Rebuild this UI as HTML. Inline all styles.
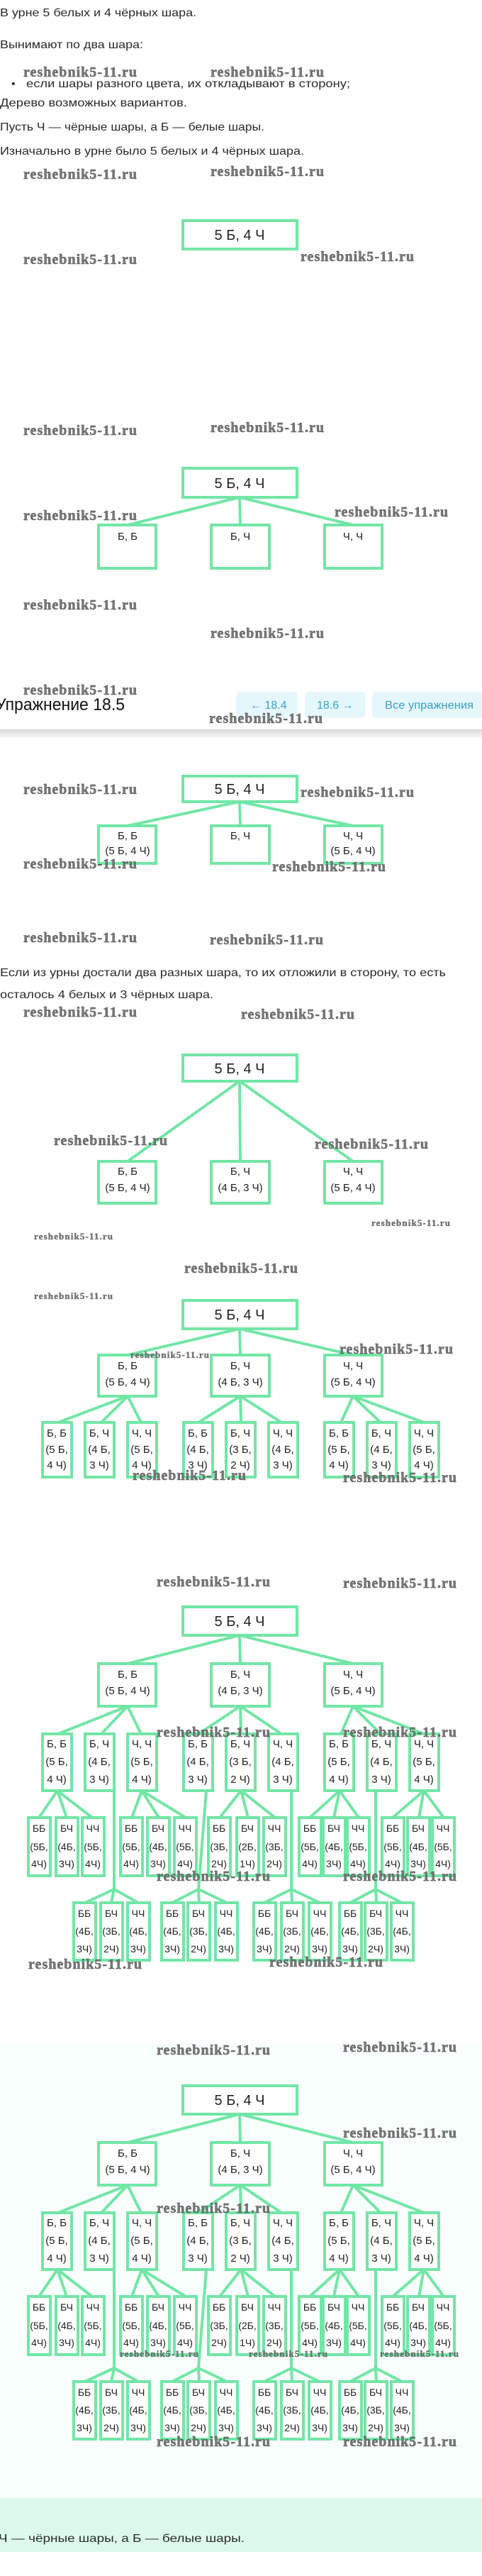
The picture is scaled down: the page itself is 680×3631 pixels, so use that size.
<!DOCTYPE html>
<html><head><meta charset="utf-8"><style>
html,body{margin:0;padding:0;background:#fff;width:680px;height:3631px;overflow:hidden}
svg{display:block}
.t{font-family:"Liberation Sans","DejaVu Sans",sans-serif;font-size:16px;fill:#2a2a2a}
.r{font-family:"Liberation Sans",sans-serif;font-size:20px;fill:#222;text-anchor:middle}
.c{font-family:"Liberation Sans",sans-serif;font-size:15px;fill:#222;text-anchor:middle}
.g{font-family:"Liberation Sans",sans-serif;font-size:14px;fill:#222;text-anchor:middle}
.w{font-family:"Liberation Serif",serif;font-weight:bold;font-size:20px;fill:#777;stroke:#444;stroke-width:.4}
.ws{font-family:"Liberation Serif",serif;font-weight:bold;font-size:13px;fill:#777;stroke:#444;stroke-width:.3}
rect.b{fill:#fff;stroke:#72e6a6;stroke-width:4}
path.l{stroke:#72e6a6;stroke-width:4;fill:none}
.bt{font-family:"Liberation Sans",sans-serif;font-size:16px;fill:#3a9fc6}
</style></head><body>
<svg width="680" height="3631" viewBox="0 0 680 3631" xmlns="http://www.w3.org/2000/svg">
<defs><linearGradient id="sh" x1="0" y1="0" x2="0" y2="1"><stop offset="0" stop-color="#d8d8d8"/><stop offset="1" stop-color="#fff"/></linearGradient></defs>
<rect x="0" y="2880" width="680" height="641" fill="#f8fefb"/>
<rect x="0" y="3521" width="680" height="76" fill="#dcf9ec"/>

<!-- intro text -->
<text class="t" x="0" y="23" textLength="277" lengthAdjust="spacingAndGlyphs">В урне 5 белых и 4 чёрных шара.</text>
<text class="t" x="0" y="68" textLength="202" lengthAdjust="spacingAndGlyphs">Вынимают по два шара:</text>
<text class="t" x="16" y="123" fill="#999">•</text>
<text class="t" x="37" y="123" textLength="457" lengthAdjust="spacingAndGlyphs">если шары разного цвета, их откладывают в сторону;</text>
<text class="t" x="0" y="150" textLength="264" lengthAdjust="spacingAndGlyphs">Дерево возможных вариантов.</text>
<text class="t" x="0" y="184" textLength="373" lengthAdjust="spacingAndGlyphs">Пусть Ч — чёрные шары, а Б — белые шары.</text>
<text class="t" x="0" y="218" textLength="429" lengthAdjust="spacingAndGlyphs">Изначально в урне было 5 белых и 4 чёрных шара.</text>

<!-- Diagram A -->
<rect class="b" x="258" y="311" width="161" height="40"/>
<text class="r" x="338" y="338">5 Б, 4 Ч</text>

<!-- Diagram B -->
<path class="l" d="M338 701 L180 740 M338 701 L339 740 M338 701 L498 740"/>
<rect class="b" x="258" y="660" width="161" height="41"/>
<text class="r" x="338" y="688">5 Б, 4 Ч</text>
<rect class="b" x="139" y="740" width="81" height="61"/>
<rect class="b" x="298" y="740" width="82" height="61"/>
<rect class="b" x="458" y="740" width="81" height="61"/>
<text class="c" x="180" y="761">Б, Б</text>
<text class="c" x="339" y="761">Б, Ч</text>
<text class="c" x="498" y="761">Ч, Ч</text>

<!-- header bar -->
<rect x="0" y="955" width="680" height="73" fill="#fff"/>
<rect x="0" y="1028" width="680" height="14" fill="url(#sh)"/>
<text x="-6" y="1001" font-family="Liberation Sans,sans-serif" font-size="24" fill="#111" textLength="182" lengthAdjust="spacingAndGlyphs">Упражнение 18.5</text>
<rect x="333" y="975" width="87" height="37" rx="5" fill="#e6f7fc"/>
<rect x="430" y="975" width="85" height="37" rx="5" fill="#e6f7fc"/>
<rect x="525" y="975" width="160" height="37" rx="5" fill="#e6f7fc"/>
<text class="bt" x="353" y="999">← 18.4</text>
<text class="bt" x="447" y="999">18.6 →</text>
<text class="bt" x="543" y="999" textLength="125" lengthAdjust="spacingAndGlyphs">Все упражнения</text>

<!-- Diagram C -->
<path class="l" d="M338 1130 L180 1164 M338 1130 L339 1164 M338 1130 L498 1164"/>
<rect class="b" x="258" y="1094" width="161" height="36"/>
<text class="r" x="338" y="1119">5 Б, 4 Ч</text>
<rect class="b" x="139" y="1164" width="81" height="53"/>
<rect class="b" x="298" y="1164" width="82" height="53"/>
<rect class="b" x="458" y="1164" width="81" height="53"/>
<text class="c" x="180" y="1183">Б, Б</text><text class="c" x="180" y="1204">(5 Б, 4 Ч)</text>
<text class="c" x="339" y="1183">Б, Ч</text>
<text class="c" x="498" y="1183">Ч, Ч</text><text class="c" x="498" y="1204">(5 Б, 4 Ч)</text>

<text class="t" x="0" y="1376" textLength="629" lengthAdjust="spacingAndGlyphs">Если из урны достали два разных шара, то их отложили в сторону, то есть</text>
<text class="t" x="0" y="1407" textLength="301" lengthAdjust="spacingAndGlyphs">осталось 4 белых и 3 чёрных шара.</text>

<!-- Diagram D -->
<path class="l" d="M338 1524 L180 1637 M338 1524 L339 1637 M338 1524 L498 1637"/>
<rect class="b" x="258" y="1487" width="161" height="37"/>
<text class="r" x="338" y="1513">5 Б, 4 Ч</text>
<rect class="b" x="139" y="1637" width="81" height="59"/>
<rect class="b" x="298" y="1637" width="82" height="59"/>
<rect class="b" x="458" y="1637" width="81" height="59"/>
<text class="c" x="180" y="1656">Б, Б</text><text class="c" x="180" y="1679">(5 Б, 4 Ч)</text>
<text class="c" x="339" y="1656">Б, Ч</text><text class="c" x="339" y="1679">(4 Б, 3 Ч)</text>
<text class="c" x="498" y="1656">Ч, Ч</text><text class="c" x="498" y="1679">(5 Б, 4 Ч)</text>

<!-- Diagram E -->
<g transform="translate(0,1833)">
<path class="l" d="M338 40 L180 77 M338 40 L339 77 M338 40 L498 77
M180 135 L82 172 M180 135 L143 172 M180 135 L199 172
M339 135 L280 172 M339 135 L340 172 M339 135 L397 172
M498 135 L481 172 M498 135 L537 172 M498 135 L598 172"/>
<rect class="b" x="258" y="0" width="161" height="40"/>
<text class="r" x="338" y="27">5 Б, 4 Ч</text>
<rect class="b" x="139" y="77" width="81" height="58"/><rect class="b" x="298" y="77" width="82" height="58"/><rect class="b" x="458" y="77" width="81" height="58"/>
<text class="c" x="180" y="97">Б, Б</text><text class="c" x="180" y="120">(5 Б, 4 Ч)</text>
<text class="c" x="339" y="97">Б, Ч</text><text class="c" x="339" y="120">(4 Б, 3 Ч)</text>
<text class="c" x="498" y="97">Ч, Ч</text><text class="c" x="498" y="120">(5 Б, 4 Ч)</text>
<rect class="b" x="60" y="172" width="41" height="77"/><rect class="b" x="120" y="172" width="41" height="77"/><rect class="b" x="180" y="172" width="41" height="77"/>
<rect class="b" x="259" y="172" width="41" height="77"/><rect class="b" x="319" y="172" width="41" height="77"/><rect class="b" x="379" y="172" width="41" height="77"/>
<rect class="b" x="458" y="172" width="41" height="77"/><rect class="b" x="518" y="172" width="41" height="77"/><rect class="b" x="578" y="172" width="41" height="77"/>
<text class="c" x="80" y="192">Б, Б</text><text class="c" x="80" y="215">(5 Б,</text><text class="c" x="80" y="237">4 Ч)</text>
<text class="c" x="140" y="192">Б, Ч</text><text class="c" x="140" y="215">(4 Б,</text><text class="c" x="140" y="237">3 Ч)</text>
<text class="c" x="200" y="192">Ч, Ч</text><text class="c" x="200" y="215">(5 Б,</text><text class="c" x="200" y="237">4 Ч)</text>
<text class="c" x="279" y="192">Б, Б</text><text class="c" x="279" y="215">(4 Б,</text><text class="c" x="279" y="237">3 Ч)</text>
<text class="c" x="339" y="192">Б, Ч</text><text class="c" x="339" y="215">(3 Б,</text><text class="c" x="339" y="237">2 Ч)</text>
<text class="c" x="399" y="192">Ч, Ч</text><text class="c" x="399" y="215">(4 Б,</text><text class="c" x="399" y="237">3 Ч)</text>
<text class="c" x="478" y="192">Б, Б</text><text class="c" x="478" y="215">(5 Б,</text><text class="c" x="478" y="237">4 Ч)</text>
<text class="c" x="538" y="192">Б, Ч</text><text class="c" x="538" y="215">(4 Б,</text><text class="c" x="538" y="237">3 Ч)</text>
<text class="c" x="598" y="192">Ч, Ч</text><text class="c" x="598" y="215">(5 Б,</text><text class="c" x="598" y="237">4 Ч)</text>
</g>

<!-- Diagram F -->
<g transform="translate(0,2265)">
<path class="l" d="M338 40 L180 80 M338 40 L339 80 M338 40 L498 80
M180 140 L82 179 M180 140 L143 179 M180 140 L199 179
M339 140 L280 179 M339 140 L340 179 M339 140 L397 179
M498 140 L481 179 M498 140 L537 179 M498 140 L598 179
M81 259 L55 297 M81 259 L94 297 M81 259 L130 297
M200 259 L186 297 M200 259 L224 297 M200 259 L262 297
M340 259 L310 297 M340 259 L350 297 M340 259 L388 297
M479 259 L437 297 M479 259 L471 297 M479 259 L506 297
M598 259 L554 297 M598 259 L591 297 M598 259 L626 297
M161 259 L161 398 M291 259 L280 398 M411 259 L411 398 M530 259 L530 398
M161 398 L120 417 M161 398 L157 417 M161 398 L195 417
M280 398 L243 417 M280 398 L281 417 M280 398 L320 417
M411 398 L373 417 M411 398 L412 417 M411 398 L451 417
M530 398 L494 417 M530 398 L531 417 M530 398 L567 417"/>
<rect class="b" x="258" y="0" width="161" height="40"/>
<text class="r" x="338" y="27">5 Б, 4 Ч</text>
<rect class="b" x="139" y="80" width="81" height="60"/><rect class="b" x="298" y="80" width="82" height="60"/><rect class="b" x="458" y="80" width="81" height="60"/>
<text class="c" x="180" y="100">Б, Б</text><text class="c" x="180" y="123">(5 Б, 4 Ч)</text>
<text class="c" x="339" y="100">Б, Ч</text><text class="c" x="339" y="123">(4 Б, 3 Ч)</text>
<text class="c" x="498" y="100">Ч, Ч</text><text class="c" x="498" y="123">(5 Б, 4 Ч)</text>
<rect class="b" x="60" y="179" width="41" height="80"/><rect class="b" x="120" y="179" width="41" height="80"/><rect class="b" x="180" y="179" width="41" height="80"/>
<rect class="b" x="259" y="179" width="41" height="80"/><rect class="b" x="319" y="179" width="41" height="80"/><rect class="b" x="379" y="179" width="41" height="80"/>
<rect class="b" x="458" y="179" width="41" height="80"/><rect class="b" x="518" y="179" width="41" height="80"/><rect class="b" x="578" y="179" width="41" height="80"/>
<text class="c" x="80" y="198">Б, Б</text><text class="c" x="80" y="223">(5 Б,</text><text class="c" x="80" y="248">4 Ч)</text>
<text class="c" x="140" y="198">Б, Ч</text><text class="c" x="140" y="223">(4 Б,</text><text class="c" x="140" y="248">3 Ч)</text>
<text class="c" x="200" y="198">Ч, Ч</text><text class="c" x="200" y="223">(5 Б,</text><text class="c" x="200" y="248">4 Ч)</text>
<text class="c" x="279" y="198">Б, Б</text><text class="c" x="279" y="223">(4 Б,</text><text class="c" x="279" y="248">3 Ч)</text>
<text class="c" x="339" y="198">Б, Ч</text><text class="c" x="339" y="223">(3 Б,</text><text class="c" x="339" y="248">2 Ч)</text>
<text class="c" x="399" y="198">Ч, Ч</text><text class="c" x="399" y="223">(4 Б,</text><text class="c" x="399" y="248">3 Ч)</text>
<text class="c" x="478" y="198">Б, Б</text><text class="c" x="478" y="223">(5 Б,</text><text class="c" x="478" y="248">4 Ч)</text>
<text class="c" x="538" y="198">Б, Ч</text><text class="c" x="538" y="223">(4 Б,</text><text class="c" x="538" y="248">3 Ч)</text>
<text class="c" x="598" y="198">Ч, Ч</text><text class="c" x="598" y="223">(5 Б,</text><text class="c" x="598" y="248">4 Ч)</text>
<!-- row1 -->
<rect class="b" x="40" y="297" width="31" height="82"/><rect class="b" x="79" y="297" width="31" height="82"/><rect class="b" x="116" y="297" width="31" height="82"/>
<rect class="b" x="170" y="297" width="31" height="82"/><rect class="b" x="208" y="297" width="31" height="82"/><rect class="b" x="246" y="297" width="31" height="82"/>
<rect class="b" x="294" y="297" width="31" height="82"/><rect class="b" x="334" y="297" width="31" height="82"/><rect class="b" x="372" y="297" width="31" height="82"/>
<rect class="b" x="422" y="297" width="31" height="82"/><rect class="b" x="456" y="297" width="31" height="82"/><rect class="b" x="490" y="297" width="31" height="82"/>
<rect class="b" x="539" y="297" width="31" height="82"/><rect class="b" x="575" y="297" width="31" height="82"/><rect class="b" x="610" y="297" width="31" height="82"/>
<text class="g" x="55" y="317">ББ</text><text class="g" x="55" y="343">(5Б,</text><text class="g" x="55" y="367">4Ч)</text>
<text class="g" x="94" y="317">БЧ</text><text class="g" x="94" y="343">(4Б,</text><text class="g" x="94" y="367">3Ч)</text>
<text class="g" x="131" y="317">ЧЧ</text><text class="g" x="131" y="343">(5Б,</text><text class="g" x="131" y="367">4Ч)</text>
<text class="g" x="185" y="317">ББ</text><text class="g" x="185" y="343">(5Б,</text><text class="g" x="185" y="367">4Ч)</text>
<text class="g" x="223" y="317">БЧ</text><text class="g" x="223" y="343">(4Б,</text><text class="g" x="223" y="367">3Ч)</text>
<text class="g" x="261" y="317">ЧЧ</text><text class="g" x="261" y="343">(5Б,</text><text class="g" x="261" y="367">4Ч)</text>
<text class="g" x="309" y="317">ББ</text><text class="g" x="309" y="343">(3Б,</text><text class="g" x="309" y="367">2Ч)</text>
<text class="g" x="349" y="317">БЧ</text><text class="g" x="349" y="343">(2Б,</text><text class="g" x="349" y="367">1Ч)</text>
<text class="g" x="387" y="317">ЧЧ</text><text class="g" x="387" y="343">(3Б,</text><text class="g" x="387" y="367">2Ч)</text>
<text class="g" x="437" y="317">ББ</text><text class="g" x="437" y="343">(5Б,</text><text class="g" x="437" y="367">4Ч)</text>
<text class="g" x="471" y="317">БЧ</text><text class="g" x="471" y="343">(4Б,</text><text class="g" x="471" y="367">3Ч)</text>
<text class="g" x="505" y="317">ЧЧ</text><text class="g" x="505" y="343">(5Б,</text><text class="g" x="505" y="367">4Ч)</text>
<text class="g" x="554" y="317">ББ</text><text class="g" x="554" y="343">(5Б,</text><text class="g" x="554" y="367">4Ч)</text>
<text class="g" x="590" y="317">БЧ</text><text class="g" x="590" y="343">(4Б,</text><text class="g" x="590" y="367">3Ч)</text>
<text class="g" x="625" y="317">ЧЧ</text><text class="g" x="625" y="343">(5Б,</text><text class="g" x="625" y="367">4Ч)</text>
<!-- row2 -->
<rect class="b" x="104" y="417" width="31" height="81"/><rect class="b" x="142" y="417" width="31" height="81"/><rect class="b" x="180" y="417" width="31" height="81"/>
<rect class="b" x="228" y="417" width="31" height="81"/><rect class="b" x="265" y="417" width="31" height="81"/><rect class="b" x="304" y="417" width="31" height="81"/>
<rect class="b" x="358" y="417" width="31" height="81"/><rect class="b" x="397" y="417" width="31" height="81"/><rect class="b" x="436" y="417" width="31" height="81"/>
<rect class="b" x="479" y="417" width="31" height="81"/><rect class="b" x="515" y="417" width="31" height="81"/><rect class="b" x="552" y="417" width="31" height="81"/>
<text class="g" x="119" y="437">ББ</text><text class="g" x="119" y="462">(4Б,</text><text class="g" x="119" y="487">3Ч)</text>
<text class="g" x="157" y="437">БЧ</text><text class="g" x="157" y="462">(3Б,</text><text class="g" x="157" y="487">2Ч)</text>
<text class="g" x="195" y="437">ЧЧ</text><text class="g" x="195" y="462">(4Б,</text><text class="g" x="195" y="487">3Ч)</text>
<text class="g" x="243" y="437">ББ</text><text class="g" x="243" y="462">(4Б,</text><text class="g" x="243" y="487">3Ч)</text>
<text class="g" x="280" y="437">БЧ</text><text class="g" x="280" y="462">(3Б,</text><text class="g" x="280" y="487">2Ч)</text>
<text class="g" x="319" y="437">ЧЧ</text><text class="g" x="319" y="462">(4Б,</text><text class="g" x="319" y="487">3Ч)</text>
<text class="g" x="373" y="437">ББ</text><text class="g" x="373" y="462">(4Б,</text><text class="g" x="373" y="487">3Ч)</text>
<text class="g" x="412" y="437">БЧ</text><text class="g" x="412" y="462">(3Б,</text><text class="g" x="412" y="487">2Ч)</text>
<text class="g" x="451" y="437">ЧЧ</text><text class="g" x="451" y="462">(4Б,</text><text class="g" x="451" y="487">3Ч)</text>
<text class="g" x="494" y="437">ББ</text><text class="g" x="494" y="462">(4Б,</text><text class="g" x="494" y="487">3Ч)</text>
<text class="g" x="530" y="437">БЧ</text><text class="g" x="530" y="462">(3Б,</text><text class="g" x="530" y="487">2Ч)</text>
<text class="g" x="567" y="437">ЧЧ</text><text class="g" x="567" y="462">(4Б,</text><text class="g" x="567" y="487">3Ч)</text>
</g>

<!-- Diagram G -->
<g transform="translate(0,2940)">
<path class="l" d="M338 40 L180 80 M338 40 L339 80 M338 40 L498 80
M180 140 L82 179 M180 140 L143 179 M180 140 L199 179
M339 140 L280 179 M339 140 L340 179 M339 140 L397 179
M498 140 L481 179 M498 140 L537 179 M498 140 L598 179
M81 259 L55 297 M81 259 L94 297 M81 259 L130 297
M200 259 L186 297 M200 259 L224 297 M200 259 L262 297
M340 259 L310 297 M340 259 L350 297 M340 259 L388 297
M479 259 L437 297 M479 259 L471 297 M479 259 L506 297
M598 259 L554 297 M598 259 L591 297 M598 259 L626 297
M161 259 L161 398 M291 259 L280 398 M411 259 L411 398 M530 259 L530 398
M161 398 L120 417 M161 398 L157 417 M161 398 L195 417
M280 398 L243 417 M280 398 L281 417 M280 398 L320 417
M411 398 L373 417 M411 398 L412 417 M411 398 L451 417
M530 398 L494 417 M530 398 L531 417 M530 398 L567 417"/>
<rect class="b" x="258" y="0" width="161" height="40"/>
<text class="r" x="338" y="27">5 Б, 4 Ч</text>
<rect class="b" x="139" y="80" width="81" height="60"/><rect class="b" x="298" y="80" width="82" height="60"/><rect class="b" x="458" y="80" width="81" height="60"/>
<text class="c" x="180" y="100">Б, Б</text><text class="c" x="180" y="123">(5 Б, 4 Ч)</text>
<text class="c" x="339" y="100">Б, Ч</text><text class="c" x="339" y="123">(4 Б, 3 Ч)</text>
<text class="c" x="498" y="100">Ч, Ч</text><text class="c" x="498" y="123">(5 Б, 4 Ч)</text>
<rect class="b" x="60" y="179" width="41" height="80"/><rect class="b" x="120" y="179" width="41" height="80"/><rect class="b" x="180" y="179" width="41" height="80"/>
<rect class="b" x="259" y="179" width="41" height="80"/><rect class="b" x="319" y="179" width="41" height="80"/><rect class="b" x="379" y="179" width="41" height="80"/>
<rect class="b" x="458" y="179" width="41" height="80"/><rect class="b" x="518" y="179" width="41" height="80"/><rect class="b" x="578" y="179" width="41" height="80"/>
<text class="c" x="80" y="198">Б, Б</text><text class="c" x="80" y="223">(5 Б,</text><text class="c" x="80" y="248">4 Ч)</text>
<text class="c" x="140" y="198">Б, Ч</text><text class="c" x="140" y="223">(4 Б,</text><text class="c" x="140" y="248">3 Ч)</text>
<text class="c" x="200" y="198">Ч, Ч</text><text class="c" x="200" y="223">(5 Б,</text><text class="c" x="200" y="248">4 Ч)</text>
<text class="c" x="279" y="198">Б, Б</text><text class="c" x="279" y="223">(4 Б,</text><text class="c" x="279" y="248">3 Ч)</text>
<text class="c" x="339" y="198">Б, Ч</text><text class="c" x="339" y="223">(3 Б,</text><text class="c" x="339" y="248">2 Ч)</text>
<text class="c" x="399" y="198">Ч, Ч</text><text class="c" x="399" y="223">(4 Б,</text><text class="c" x="399" y="248">3 Ч)</text>
<text class="c" x="478" y="198">Б, Б</text><text class="c" x="478" y="223">(5 Б,</text><text class="c" x="478" y="248">4 Ч)</text>
<text class="c" x="538" y="198">Б, Ч</text><text class="c" x="538" y="223">(4 Б,</text><text class="c" x="538" y="248">3 Ч)</text>
<text class="c" x="598" y="198">Ч, Ч</text><text class="c" x="598" y="223">(5 Б,</text><text class="c" x="598" y="248">4 Ч)</text>
<rect class="b" x="40" y="297" width="31" height="82"/><rect class="b" x="79" y="297" width="31" height="82"/><rect class="b" x="116" y="297" width="31" height="82"/>
<rect class="b" x="170" y="297" width="31" height="82"/><rect class="b" x="208" y="297" width="31" height="82"/><rect class="b" x="246" y="297" width="31" height="82"/>
<rect class="b" x="294" y="297" width="31" height="82"/><rect class="b" x="334" y="297" width="31" height="82"/><rect class="b" x="372" y="297" width="31" height="82"/>
<rect class="b" x="422" y="297" width="31" height="82"/><rect class="b" x="456" y="297" width="31" height="82"/><rect class="b" x="490" y="297" width="31" height="82"/>
<rect class="b" x="539" y="297" width="31" height="82"/><rect class="b" x="575" y="297" width="31" height="82"/><rect class="b" x="610" y="297" width="31" height="82"/>
<text class="g" x="55" y="317">ББ</text><text class="g" x="55" y="343">(5Б,</text><text class="g" x="55" y="367">4Ч)</text>
<text class="g" x="94" y="317">БЧ</text><text class="g" x="94" y="343">(4Б,</text><text class="g" x="94" y="367">3Ч)</text>
<text class="g" x="131" y="317">ЧЧ</text><text class="g" x="131" y="343">(5Б,</text><text class="g" x="131" y="367">4Ч)</text>
<text class="g" x="185" y="317">ББ</text><text class="g" x="185" y="343">(5Б,</text><text class="g" x="185" y="367">4Ч)</text>
<text class="g" x="223" y="317">БЧ</text><text class="g" x="223" y="343">(4Б,</text><text class="g" x="223" y="367">3Ч)</text>
<text class="g" x="261" y="317">ЧЧ</text><text class="g" x="261" y="343">(5Б,</text><text class="g" x="261" y="367">4Ч)</text>
<text class="g" x="309" y="317">ББ</text><text class="g" x="309" y="343">(3Б,</text><text class="g" x="309" y="367">2Ч)</text>
<text class="g" x="349" y="317">БЧ</text><text class="g" x="349" y="343">(2Б,</text><text class="g" x="349" y="367">1Ч)</text>
<text class="g" x="387" y="317">ЧЧ</text><text class="g" x="387" y="343">(3Б,</text><text class="g" x="387" y="367">2Ч)</text>
<text class="g" x="437" y="317">ББ</text><text class="g" x="437" y="343">(5Б,</text><text class="g" x="437" y="367">4Ч)</text>
<text class="g" x="471" y="317">БЧ</text><text class="g" x="471" y="343">(4Б,</text><text class="g" x="471" y="367">3Ч)</text>
<text class="g" x="505" y="317">ЧЧ</text><text class="g" x="505" y="343">(5Б,</text><text class="g" x="505" y="367">4Ч)</text>
<text class="g" x="554" y="317">ББ</text><text class="g" x="554" y="343">(5Б,</text><text class="g" x="554" y="367">4Ч)</text>
<text class="g" x="590" y="317">БЧ</text><text class="g" x="590" y="343">(4Б,</text><text class="g" x="590" y="367">3Ч)</text>
<text class="g" x="625" y="317">ЧЧ</text><text class="g" x="625" y="343">(5Б,</text><text class="g" x="625" y="367">4Ч)</text>
<rect class="b" x="104" y="417" width="31" height="81"/><rect class="b" x="142" y="417" width="31" height="81"/><rect class="b" x="180" y="417" width="31" height="81"/>
<rect class="b" x="228" y="417" width="31" height="81"/><rect class="b" x="265" y="417" width="31" height="81"/><rect class="b" x="304" y="417" width="31" height="81"/>
<rect class="b" x="358" y="417" width="31" height="81"/><rect class="b" x="397" y="417" width="31" height="81"/><rect class="b" x="436" y="417" width="31" height="81"/>
<rect class="b" x="479" y="417" width="31" height="81"/><rect class="b" x="515" y="417" width="31" height="81"/><rect class="b" x="552" y="417" width="31" height="81"/>
<text class="g" x="119" y="437">ББ</text><text class="g" x="119" y="462">(4Б,</text><text class="g" x="119" y="487">3Ч)</text>
<text class="g" x="157" y="437">БЧ</text><text class="g" x="157" y="462">(3Б,</text><text class="g" x="157" y="487">2Ч)</text>
<text class="g" x="195" y="437">ЧЧ</text><text class="g" x="195" y="462">(4Б,</text><text class="g" x="195" y="487">3Ч)</text>
<text class="g" x="243" y="437">ББ</text><text class="g" x="243" y="462">(4Б,</text><text class="g" x="243" y="487">3Ч)</text>
<text class="g" x="280" y="437">БЧ</text><text class="g" x="280" y="462">(3Б,</text><text class="g" x="280" y="487">2Ч)</text>
<text class="g" x="319" y="437">ЧЧ</text><text class="g" x="319" y="462">(4Б,</text><text class="g" x="319" y="487">3Ч)</text>
<text class="g" x="373" y="437">ББ</text><text class="g" x="373" y="462">(4Б,</text><text class="g" x="373" y="487">3Ч)</text>
<text class="g" x="412" y="437">БЧ</text><text class="g" x="412" y="462">(3Б,</text><text class="g" x="412" y="487">2Ч)</text>
<text class="g" x="451" y="437">ЧЧ</text><text class="g" x="451" y="462">(4Б,</text><text class="g" x="451" y="487">3Ч)</text>
<text class="g" x="494" y="437">ББ</text><text class="g" x="494" y="462">(4Б,</text><text class="g" x="494" y="487">3Ч)</text>
<text class="g" x="530" y="437">БЧ</text><text class="g" x="530" y="462">(3Б,</text><text class="g" x="530" y="487">2Ч)</text>
<text class="g" x="567" y="437">ЧЧ</text><text class="g" x="567" y="462">(4Б,</text><text class="g" x="567" y="487">3Ч)</text>
</g>

<text class="t" x="-2" y="3583" textLength="347" lengthAdjust="spacingAndGlyphs">Ч — чёрные шары, а Б — белые шары.</text>

<!-- watermarks -->
<g class="wm">
<text class="w" x="33" y="108" textLength="160">reshebnik5-11.ru</text>
<text class="w" x="297" y="108" textLength="160">reshebnik5-11.ru</text>
<text class="w" x="33" y="252" textLength="160">reshebnik5-11.ru</text>
<text class="w" x="297" y="248" textLength="160">reshebnik5-11.ru</text>
<text class="w" x="33" y="372" textLength="160">reshebnik5-11.ru</text>
<text class="w" x="424" y="368" textLength="160">reshebnik5-11.ru</text>
<text class="w" x="33" y="613" textLength="160">reshebnik5-11.ru</text>
<text class="w" x="297" y="609" textLength="160">reshebnik5-11.ru</text>
<text class="w" x="33" y="733" textLength="160">reshebnik5-11.ru</text>
<text class="w" x="472" y="728" textLength="160">reshebnik5-11.ru</text>
<text class="w" x="33" y="859" textLength="160">reshebnik5-11.ru</text>
<text class="w" x="297" y="899" textLength="160">reshebnik5-11.ru</text>
<text class="w" x="33" y="979" textLength="160">reshebnik5-11.ru</text>
<text class="w" x="295" y="1019" textLength="160">reshebnik5-11.ru</text>
<text class="w" x="33" y="1119" textLength="160">reshebnik5-11.ru</text>
<text class="w" x="424" y="1123" textLength="160">reshebnik5-11.ru</text>
<text class="w" x="33" y="1224" textLength="160">reshebnik5-11.ru</text>
<text class="w" x="384" y="1228" textLength="160">reshebnik5-11.ru</text>
<text class="w" x="33" y="1328" textLength="160">reshebnik5-11.ru</text>
<text class="w" x="296" y="1331" textLength="160">reshebnik5-11.ru</text>
<text class="w" x="33" y="1433" textLength="160">reshebnik5-11.ru</text>
<text class="w" x="340" y="1436" textLength="160">reshebnik5-11.ru</text>
<text class="w" x="76" y="1614" textLength="160">reshebnik5-11.ru</text>
<text class="w" x="444" y="1619" textLength="160">reshebnik5-11.ru</text>
<text class="ws" x="524" y="1728" textLength="111">reshebnik5-11.ru</text>
<text class="ws" x="48" y="1747" textLength="111">reshebnik5-11.ru</text>
<text class="w" x="260" y="1794" textLength="160">reshebnik5-11.ru</text>
<text class="ws" x="48" y="1831" textLength="111">reshebnik5-11.ru</text>
<text class="w" x="479" y="1908" textLength="160">reshebnik5-11.ru</text>
<text class="ws" x="184" y="1914" textLength="111">reshebnik5-11.ru</text>
<text class="w" x="187" y="2086" textLength="160">reshebnik5-11.ru</text>
<text class="w" x="484" y="2089" textLength="160">reshebnik5-11.ru</text>
<text class="w" x="221" y="2236" textLength="160">reshebnik5-11.ru</text>
<text class="w" x="484" y="2238" textLength="160">reshebnik5-11.ru</text>
<text class="w" x="221" y="2448" textLength="160">reshebnik5-11.ru</text>
<text class="w" x="484" y="2448" textLength="160">reshebnik5-11.ru</text>
<text class="w" x="221" y="2651" textLength="160">reshebnik5-11.ru</text>
<text class="w" x="484" y="2651" textLength="160">reshebnik5-11.ru</text>
<text class="w" x="40" y="2775" textLength="160">reshebnik5-11.ru</text>
<text class="w" x="380" y="2772" textLength="160">reshebnik5-11.ru</text>
<text class="w" x="221" y="2896" textLength="160">reshebnik5-11.ru</text>
<text class="w" x="484" y="2892" textLength="160">reshebnik5-11.ru</text>
<text class="w" x="484" y="3013" textLength="160">reshebnik5-11.ru</text>
<text class="w" x="221" y="3119" textLength="160">reshebnik5-11.ru</text>
<text class="ws" x="169" y="3322" textLength="111">reshebnik5-11.ru</text>
<text class="ws" x="351" y="3322" textLength="111">reshebnik5-11.ru</text>
<text class="ws" x="536" y="3322" textLength="111">reshebnik5-11.ru</text>
<text class="w" x="221" y="3448" textLength="160">reshebnik5-11.ru</text>
<text class="w" x="484" y="3448" textLength="160">reshebnik5-11.ru</text>
</g>
</svg>
</body></html>
